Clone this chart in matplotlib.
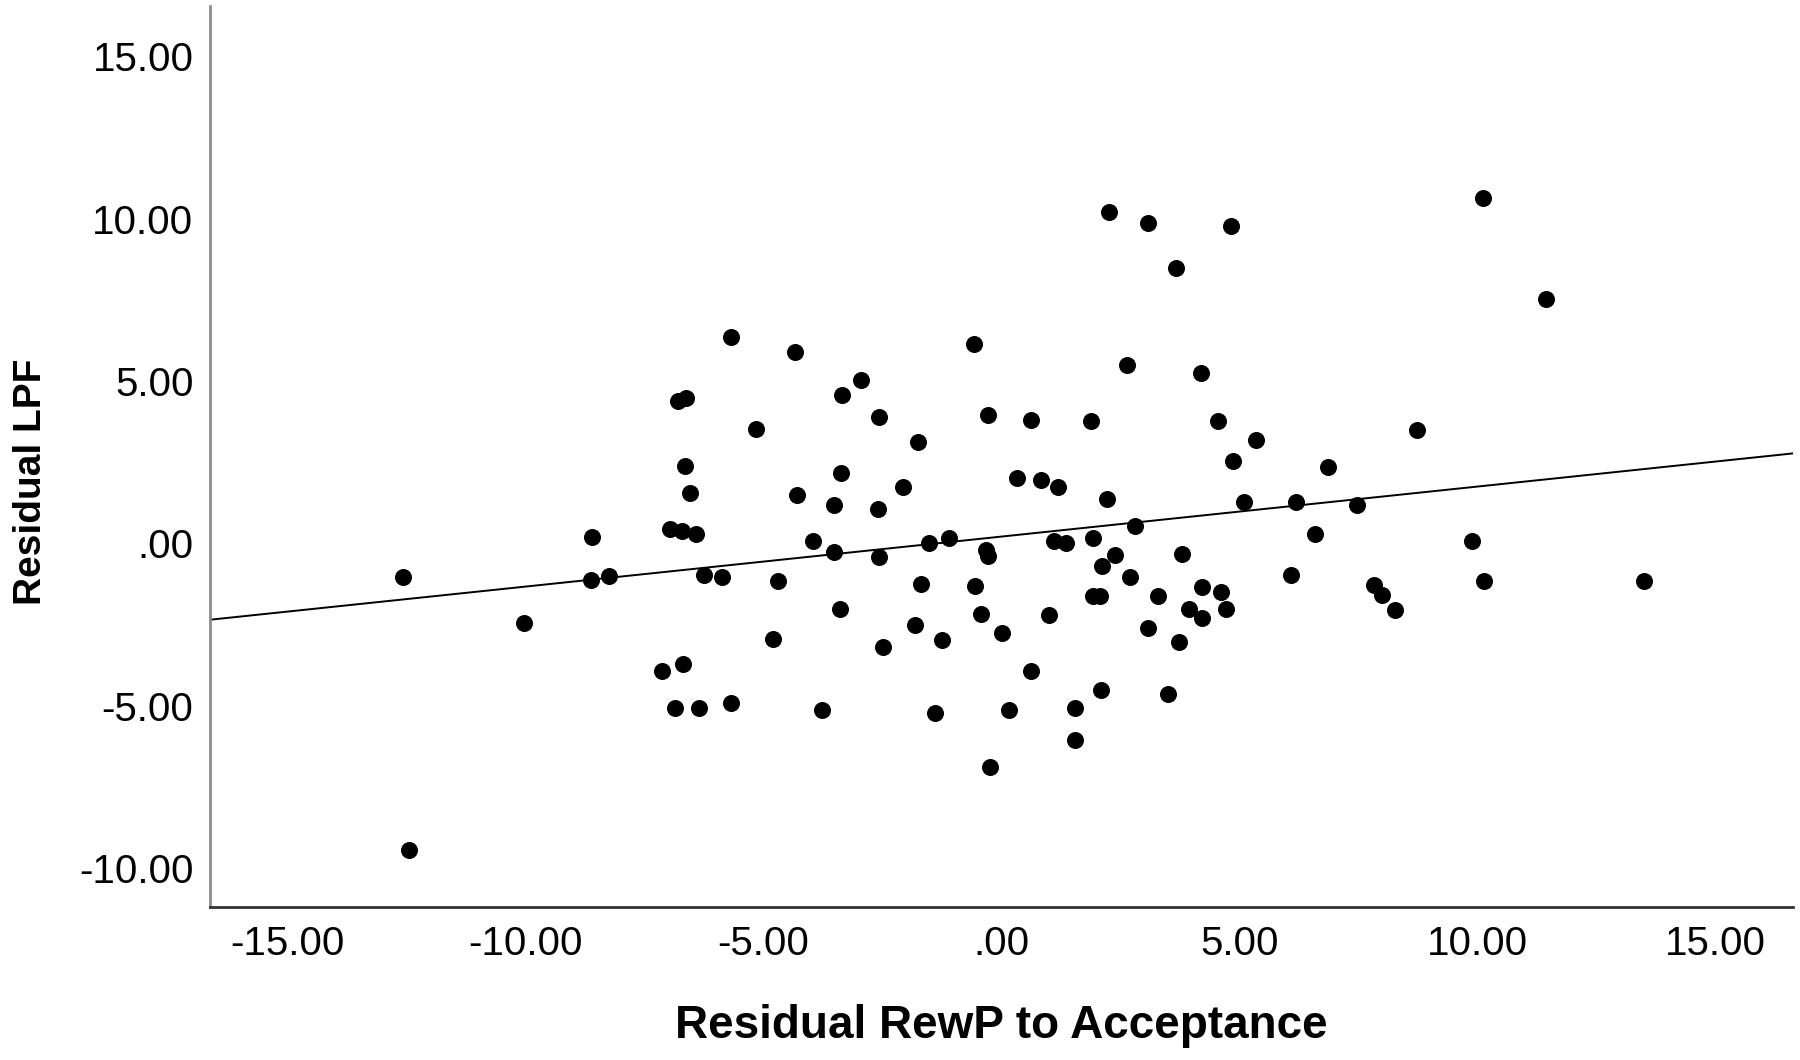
import numpy as np
import matplotlib.pyplot as plt

# residuals
x_rewp = [-12.58, -12.44, -10.03, -8.61, -8.63, -8.24, -7.13, -6.97, -6.72, -6.41,
          -6.87, -6.70, -6.36, -6.80, -6.63, -6.65, -6.55, -6.24, -5.88, -5.69,
          -5.69, -5.16, -4.79, -4.70, -4.34, -4.29, -3.97, -3.78, -3.52, -3.52,
          -3.40, -3.37, -3.35, -2.96, -2.58, -2.60, -2.58, -2.48, -2.07, -1.81,
          -1.76, -1.69, -1.52, -1.39, -1.25, -1.11, -0.58, -0.55, -0.43, -0.32,
          -0.29, -0.29, -0.24, 0.02, 0.15, 0.32, 0.62, 0.62, 0.84, 1.01,
          1.11, 1.19, 1.35, 1.54, 1.54, 1.88, 1.93, 1.93, 2.07, 2.09,
          2.12, 2.21, 2.26, 2.38, 2.63, 2.70, 2.80, 3.08, 3.08, 3.28,
          3.50, 3.67, 3.73, 3.80, 3.95, 4.19, 4.22, 4.22, 4.55, 4.62,
          4.72, 4.82, 4.87, 5.09, 5.35, 6.08, 6.19, 6.58, 6.87, 7.47,
          7.83, 8.00, 8.27, 8.74, 9.88, 10.12, 10.15, 11.45, 13.50]
y_lpf = [-1.03, -9.43, -2.45, 0.21, -1.13, -0.99, -3.94, 0.43, 0.39, 0.28,
         -5.07, -3.72, -5.07, 4.40, 4.47, 2.38, 1.56, -0.96, -1.03, 6.35,
         -4.93, 3.51, -2.94, -1.17, 5.89, 1.49, 0.07, -5.14, -0.28, 1.17,
         -2.02, 2.16, 4.57, 5.04, 3.90, 1.06, -0.43, -3.19, 1.74, -2.52,
         3.12, -1.24, 0.00, -5.21, -2.98, 0.18, 6.13, -1.31, -2.16, -0.21,
         -0.39, 3.94, -6.88, -2.77, -5.14, 2.02, 3.79, -3.94, 1.95, -2.20,
         0.07, 1.74, 0.00, -5.07, -6.06, 3.76, 0.18, -1.63, -1.63, -4.50,
         -0.71, 1.38, 10.21, -0.35, 5.50, -1.03, 0.53, 9.86, -2.62, -1.63,
         -4.65, 8.48, -3.05, -0.32, -2.02, 5.25, -1.35, -2.30, 3.76, -1.49,
         -2.02, 9.79, 2.55, 1.28, 3.19, -0.96, 1.28, 0.28, 2.34, 1.17,
         -1.28, -1.60, -2.06, 3.48, 0.07, 10.64, -1.17, 7.52, -1.17]

# fit line (intercept, slope) as drawn in the reference
fit_b0 = 0.21
fit_b1 = 0.154

xticks = [-15, -10, -5, 0, 5, 10, 15]
yticks = [-10, -5, 0, 5, 10, 15]


def lab(v):
    if v == 0:
        return ".00"
    return "%.2f" % v


fig = plt.figure(figsize=(18, 10.6), dpi=100)
ax = fig.add_axes([0.1167, 0.1443, 0.8793, 0.85])

ax.scatter(x_rewp, y_lpf, s=150, color="black", zorder=3, linewidths=0)

xmin, xmax = -16.63, 16.63
xl = np.array([xmin, xmax])
ax.plot(xl, fit_b0 + fit_b1 * xl, color="black", lw=1.4, zorder=2)

ax.set_xlim(xmin, xmax)
ax.set_ylim(-11.2, 16.55)

ax.set_xticks(xticks)
ax.set_xticklabels([lab(v) for v in xticks], fontsize=29, family="Liberation Sans")
ax.set_yticks(yticks)
ax.set_yticklabels([lab(v) for v in yticks], fontsize=29, family="Liberation Sans")
ax.tick_params(axis="x", length=0, pad=13)
ax.tick_params(axis="y", length=0, pad=12)

for s in ["top", "right"]:
    ax.spines[s].set_visible(False)
ax.spines["left"].set_color("#8c8c8c")
ax.spines["left"].set_linewidth(2)
ax.spines["bottom"].set_color("#333333")
ax.spines["bottom"].set_linewidth(2)

ax.set_xlabel("Residual RewP to Acceptance", fontsize=33, fontweight="bold",
              family="Liberation Sans")
ax.set_ylabel("Residual LPF", fontsize=28, fontweight="bold", family="Liberation Sans")
ax.xaxis.set_label_coords(0.5, -0.108)
ax.yaxis.set_label_coords(-0.102, 0.472)

fig.savefig("out.png", dpi=100, facecolor="white")
